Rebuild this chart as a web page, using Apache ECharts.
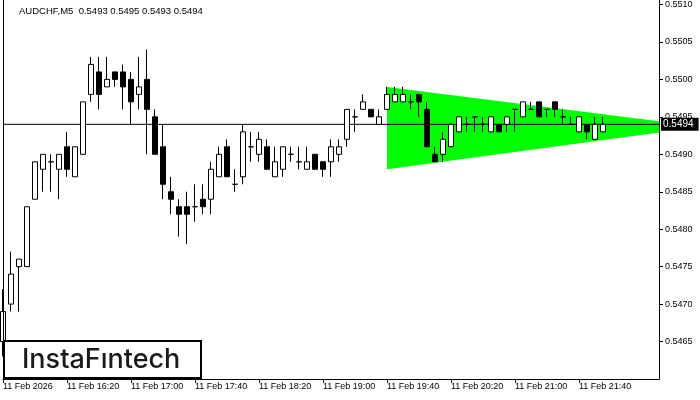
<!DOCTYPE html>
<html>
<head>
<meta charset="utf-8">
<script src="https://cdn.jsdelivr.net/npm/echarts@6/dist/echarts.min.js"></script>
<style>html,body{margin:0;padding:0;background:#fff}#c{width:700px;height:400px}</style>
</head>
<body>
<div id="c"></div>
<script>
const times = ['15:40','15:45','15:50','15:55','16:00','16:05','16:10','16:15','16:20','16:25','16:30','16:35',
'16:40','16:45','16:50','16:55','17:00','17:05','17:10','17:15','17:20','17:25','17:30','17:35',
'17:40','17:45','17:50','17:55','18:00','18:05','18:10','18:15','18:20','18:25','18:30','18:35',
'18:40','18:45','18:50','18:55','19:00','19:05','19:10','19:15','19:20','19:25','19:30','19:35',
'19:40','19:45','19:50','19:55','20:00','20:05','20:10','20:15','20:20','20:25','20:30','20:35',
'20:40','20:45','20:50','20:55','21:00','21:05','21:10','21:15','21:20','21:25','21:30','21:35',
'21:40','21:45','21:50','21:55','22:00','22:05','22:10','22:15','22:20','22:25','22:30'];
const opens  = [0.5465,0.5470,0.5475,0.5475,0.5484,0.5488,0.5489,0.5488,0.5491,0.5487,0.5490,0.5498,
0.5501,0.5499,0.5501,0.5501,0.5500,0.5498,0.5500,0.5495,0.5491,0.5485,0.5483,0.5483,
0.5483,0.5484,0.5484,0.5487,0.5491,0.5486,0.5487,0.5491,0.5490,0.5491,0.5487,0.5488,
0.5490,0.5489,0.5488,0.5490,0.5489,0.5489,0.5490,0.5492,0.5495,0.5496,0.5496,0.5494,
0.5496,0.5497,0.5497,0.5497,0.5498,0.5496,0.5490,0.5490,0.5491,0.5493,0.5494,0.5495,
0.5494,0.5493,0.5494,0.5494,0.5496,0.5495,0.5496,0.5497,0.5496,0.5497,0.5495,0.5494,
0.5493,0.5494,0.5492,0.5493];
const highs  = [0.5472,0.5477,0.5476,0.5483,0.5489,0.5490,0.5490,0.5490,0.5493,0.5491,0.5497,0.5503,
0.5503,0.5503,0.5501,0.5502,0.5501,0.5503,0.5504,0.5496,0.5494,0.5487,0.5484,0.5485,
0.5486,0.5486,0.5489,0.5491,0.5492,0.5488,0.5494,0.5493,0.5493,0.5492,0.5491,0.5491,
0.5491,0.5491,0.5491,0.5490,0.5489,0.5492,0.5492,0.5496,0.5496,0.5498,0.5496,0.5496,
0.5499,0.5499,0.5499,0.5498,0.5498,0.5497,0.5491,0.5493,0.5494,0.5495,0.5495,0.5495,
0.5495,0.5495,0.5494,0.5495,0.5496,0.5497,0.5497,0.5497,0.5496,0.5497,0.5496,0.5495,
0.5495,0.5494,0.5495,0.5495];
const lows   = [0.5463,0.5469,0.5469,0.5475,0.5484,0.5485,0.5485,0.5484,0.5487,0.5487,0.5490,0.5497,
0.5496,0.5499,0.5499,0.5496,0.5494,0.5496,0.5490,0.5490,0.5484,0.5482,0.5479,0.5478,
0.5481,0.5482,0.5482,0.5487,0.5487,0.5485,0.5486,0.5489,0.5489,0.5488,0.5487,0.5487,
0.5489,0.5488,0.5488,0.5488,0.5487,0.5487,0.5489,0.5491,0.5493,0.5496,0.5495,0.5494,
0.5496,0.5497,0.5497,0.5496,0.5495,0.5491,0.5489,0.5489,0.5491,0.5493,0.5493,0.5493,
0.5493,0.5493,0.5493,0.5493,0.5493,0.5495,0.5496,0.5495,0.5495,0.5495,0.5494,0.5494,
0.5493,0.5492,0.5492,0.5493];
const closes = [0.5469,0.5474,0.5476,0.5483,0.5489,0.5490,0.5489,0.5490,0.5488,0.5491,0.5497,0.5502,
0.5498,0.5500,0.5500,0.5499,0.5497,0.5499,0.5496,0.5490,0.5486,0.5484,0.5482,0.5482,
0.5483,0.5483,0.5488,0.5490,0.5487,0.5486,0.5493,0.5491,0.5492,0.5488,0.5489,0.5491,
0.5490,0.5489,0.5489,0.5488,0.5488,0.5491,0.5491,0.5496,0.5495,0.5497,0.5495,0.5495,
0.5498,0.5498,0.5498,0.5497,0.5497,0.5491,0.5489,0.5492,0.5494,0.5495,0.5494,0.5495,
0.5494,0.5495,0.5493,0.5495,0.5496,0.5497,0.5496,0.5495,0.5496,0.5496,0.5495,0.5494,
0.5495,0.5493,0.5494,0.5494];
const tickLabels = ['11 Feb 2026','11 Feb 16:20','11 Feb 17:00','11 Feb 17:40','11 Feb 18:20',
'11 Feb 19:00','11 Feb 19:40','11 Feb 20:20','11 Feb 21:00','11 Feb 21:40'];
const priceTicks = { min: 0.5460, max: 0.5510, step: 0.0005 };
const lastPrice = 0.5494;
const patternX = [48, 82, 82, 48];
const patternY = [0.5499, 0.54944, 0.54929, 0.5488];
const titleText = 'AUDCHF,M5  0.5493 0.5495 0.5493 0.5494';

const ohlc = opens.map((o, i) => [o, closes[i], lows[i], highs[i]]);
const bidLine = times.map(() => lastPrice);
const FONT = 'Liberation Sans, Arial, sans-serif';

const chart = echarts.init(document.getElementById('c'), null, {renderer: 'canvas'});
chart.setOption({
  animation: false,
  backgroundColor: '#fff',
  grid: { left: 3, right: 41, top: 4, bottom: 21, containLabel: false },
  xAxis: {
    type: 'category', data: times, boundaryGap: false,
    axisLine: { show: true, lineStyle: { color: '#000', width: 1 } },
    axisTick: { show: true, length: 4, lineStyle: { color: '#000' },
      interval: (i) => i % 8 === 0 && i / 8 < tickLabels.length },
    axisLabel: { show: true, margin: 3, align: 'left', color: '#000', fontSize: 9, fontFamily: FONT,
      interval: (i) => i % 8 === 0 && i / 8 < tickLabels.length,
      formatter: (v, i) => tickLabels[i / 8] || '' },
    splitLine: { show: false }
  },
  yAxis: {
    type: 'value', position: 'right', scale: true,
    min: priceTicks.min, max: priceTicks.max, interval: priceTicks.step,
    axisLine: { show: true, lineStyle: { color: '#000', width: 1 } },
    axisTick: { show: true, length: 4, inside: false, lineStyle: { color: '#000' } },
    axisLabel: { show: true, margin: 6, color: '#000', fontSize: 9, fontFamily: FONT,
      showMinLabel: false, formatter: (v) => v.toFixed(4) },
    splitLine: { show: false }
  },
  series: [
    {
      type: 'custom', z: 1, clip: true, silent: true,
      data: [0],
      renderItem: (params, api) => {
        const pts = patternX.map((x, i) => api.coord([x, patternY[i]]));
        return { type: 'polygon', shape: { points: pts }, style: { fill: '#00ff00', stroke: null } };
      }
    },
    {
      type: 'line', z: 2, data: bidLine, showSymbol: false, symbol: 'none', silent: true,
      lineStyle: { color: '#000', width: 1 },
      endLabel: { show: true, distance: 2, formatter: () => lastPrice.toFixed(4),
        color: '#fff', backgroundColor: '#000', padding: [2, 5, 1, 2], fontSize: 10, fontFamily: FONT }
    },
    {
      type: 'candlestick', z: 3, data: ohlc, barWidth: 5,
      itemStyle: { color: '#ffffff', color0: '#000000', borderColor: '#000000', borderColor0: '#000000', borderWidth: 1 }
    }
  ],
  graphic: [
    { type: 'line', shape: { x1: 3.5, y1: 0, x2: 3.5, y2: 380 }, style: { stroke: '#000', lineWidth: 1 }, z: 10 },
    { type: 'line', shape: { x1: 659.5, y1: 0, x2: 659.5, y2: 5 }, style: { stroke: '#000', lineWidth: 1 }, z: 10 },
    { type: 'text', left: 19, top: 6, style: { text: titleText, fill: '#000', font: '9.5px ' + FONT }, z: 10 },
    { type: 'rect', shape: { x: 4, y: 341, width: 197, height: 37 }, style: { fill: '#fff', stroke: '#000', lineWidth: 2 }, z: 20 },
    { type: 'text', x: 22, y: 360, style: { text: 'InstaFıntech', fill: '#1a1a1a', font: '500 27px Inter, Roboto, sans-serif', textVerticalAlign: 'middle' }, z: 21 }
  ]
});
</script>
</body>
</html>
